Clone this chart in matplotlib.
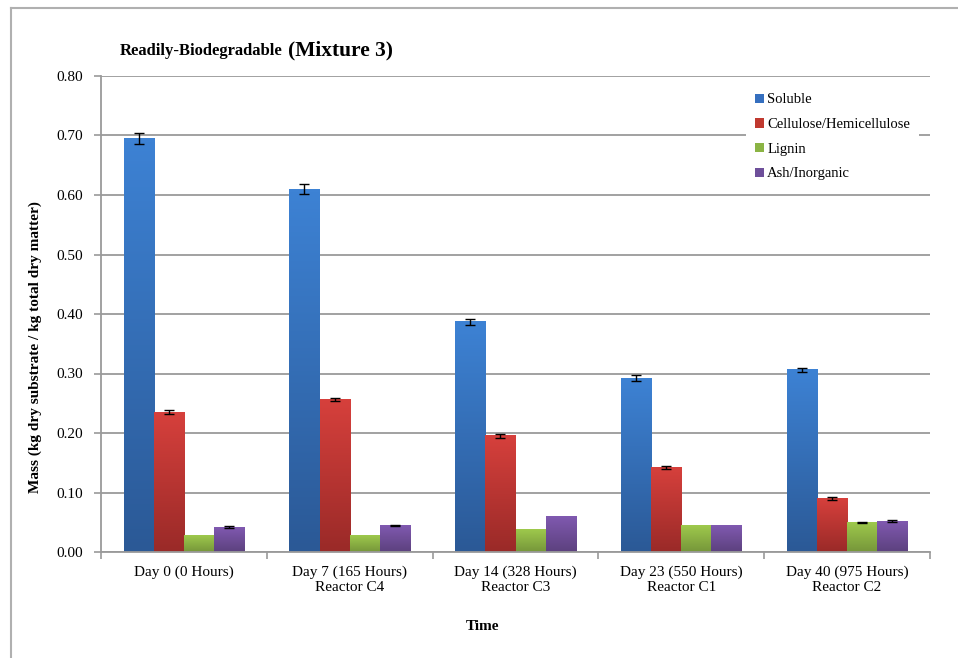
import matplotlib.pyplot as plt
import numpy as np
from matplotlib.colors import LinearSegmentedColormap
from matplotlib.lines import Line2D
from matplotlib.patches import Patch

plt.rcParams['font.family'] = ['Liberation Serif', 'DejaVu Serif']

# data
days = ["Day 0 (0 Hours)", "Day 7 (165 Hours)\nReactor C4", "Day 14 (328 Hours)\nReactor C3",
        "Day 23 (550 Hours)\nReactor C1", "Day 40 (975 Hours)\nReactor C2"]
series = ["Soluble", "Cellulose/Hemicellulose", "Lignin", "Ash/Inorganic"]
soluble = [0.695, 0.610, 0.387, 0.292, 0.306]
soluble_err = [0.010, 0.009, 0.005, 0.005, 0.004]
cellulose = [0.235, 0.256, 0.195, 0.142, 0.090]
cellulose_err = [0.003, 0.003, 0.003, 0.002, 0.002]
lignin = [0.027, 0.027, 0.038, 0.045, 0.050]
lignin_err = [0.0, 0.0, 0.0, 0.0, 0.001]
ash = [0.042, 0.045, 0.059, 0.044, 0.052]
ash_err = [0.001, 0.001, 0.0, 0.0, 0.001]

values = [soluble, cellulose, lignin, ash]
errors = [soluble_err, cellulose_err, lignin_err, ash_err]
# top colour, bottom colour
colors = [("#3d82d4", "#2b5996"), ("#d6403c", "#9a2a28"),
          ("#9ec94c", "#76963a"), ("#8059b0", "#5c417e")]
legend_cols = ["#356fbf", "#c0392f", "#8bb444", "#6e4f9a"]


def grad_bar(ax, x, h, w, c_top, c_bot):
    cmap = LinearSegmentedColormap.from_list("g", [c_bot, c_top])
    grad = np.linspace(0, 1, 100).reshape(-1, 1)
    ax.imshow(grad, cmap=cmap, origin="lower", aspect="auto",
              extent=(x - w / 2, x + w / 2, 0, h), zorder=2, interpolation="bilinear")


fig = plt.figure(figsize=(9.58, 6.58), dpi=100)
ax = fig.add_axes([101 / 958, 1 - 552 / 658, 829 / 958, 476 / 658])

x = np.arange(len(days))
w = 0.182
for i, (vals, errs) in enumerate(zip(values, errors)):
    pos = x + (i - 1.5) * w
    for p, v in zip(pos, vals):
        grad_bar(ax, p, v, w, *colors[i])
    # only bars that have a measured spread get error bars
    keep = [j for j, e in enumerate(errs) if e > 0]
    if keep:
        ax.errorbar(pos[keep], [vals[j] for j in keep], yerr=[errs[j] for j in keep],
                    fmt="none", ecolor="black", elinewidth=1,
                    capsize=3.5, capthick=1, zorder=4)

ax.set_xlim(-0.5, 4.5)
ax.set_ylim(0, 0.8)
ax.set_yticks(np.arange(0, 0.81, 0.1))
ax.set_yticklabels(["%.2f" % v for v in np.arange(0, 0.81, 0.1)], fontsize=11)
ax.yaxis.grid(True, color="#9a9a9a", linewidth=1.3)
ax.set_axisbelow(True)
ax.set_xticks(np.arange(-0.5, 4.6, 1))
ax.set_xticklabels([])
ax.set_xticks(x, minor=True)
ax.set_xticklabels(days, minor=True, fontsize=11, linespacing=1.2)
ax.tick_params(axis="x", which="minor", length=0, pad=10)
ax.tick_params(axis="x", which="major", length=5, color="#9a9a9a", width=1.2)
ax.tick_params(axis="y", length=5, color="#9a9a9a", width=1.2, pad=8)
for s in ["top", "right"]:
    ax.spines[s].set_visible(False)
for s in ["left", "bottom"]:
    ax.spines[s].set_color("#9a9a9a")
    ax.spines[s].set_linewidth(1.3)

handles = [Patch(facecolor=c, edgecolor="none") for c in legend_cols]
leg = ax.legend(handles, series, loc="upper right", bbox_to_anchor=(0.99, 0.988),
                frameon=True, fancybox=False, edgecolor="none", framealpha=1,
                fontsize=10.5, handlelength=0.6, handleheight=0.6, handletextpad=0.25,
                labelspacing=0.8, borderpad=0.6, borderaxespad=0.2)

t1 = fig.text(120 / 958, 1 - 55 / 658, "Readily-Biodegradable", fontsize=12,
              fontweight="bold", va="baseline")
fig.canvas.draw()
bb = t1.get_window_extent()
fig.text((bb.x1 + 5) / 958, 1 - 55 / 658, "(Mixture 3)", fontsize=15.5,
         fontweight="bold", va="baseline")

fig.text(483 / 958, 1 - 626 / 658, "Time", fontsize=11, fontweight="bold",
         ha="center", va="center")
fig.text(35 / 958, 1 - 347 / 658, "Mass (kg dry substrate / kg total dry matter)",
         fontsize=11, fontweight="bold", rotation=90, ha="center", va="center")

# outer frame
fig.add_artist(Line2D([11 / 958, 11 / 958], [0, 1 - 8 / 658], transform=fig.transFigure,
                      color="#b0b0b0", linewidth=1.5))
fig.add_artist(Line2D([11 / 958, 1], [1 - 8 / 658, 1 - 8 / 658], transform=fig.transFigure,
                      color="#b0b0b0", linewidth=1.5))

fig.savefig("out.png", dpi=100)
